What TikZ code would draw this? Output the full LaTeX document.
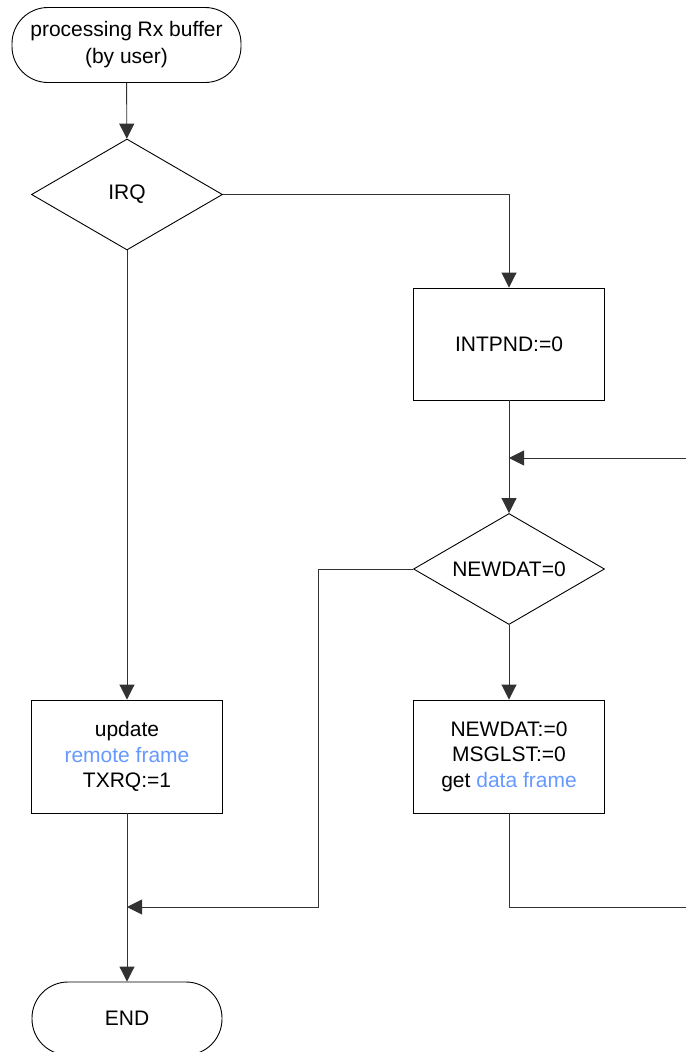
\documentclass[tikz,border=0pt]{standalone}
\usepackage{fontspec}
\setmainfont{Liberation Sans}
\usetikzlibrary{shapes.geometric,arrows.meta}
\definecolor{linkblue}{RGB}{102,153,255}
\definecolor{flowline}{RGB}{50,50,50}
\begin{document}
\begin{tikzpicture}[x=1pt,y=-1pt,
  every node/.style={font=\fontsize{21}{25.5}\selectfont,align=center,inner sep=0pt},
  terminal/.style={draw,line width=0.9pt,rectangle,rounded corners=36pt,minimum width=229pt,minimum height=75pt},
  decision/.style={draw,line width=0.9pt,diamond,aspect=1.72,minimum width=191pt,minimum height=111pt},
  process/.style={draw,line width=0.9pt,rectangle,minimum width=191pt,minimum height=113pt},
  flow/.style={draw=flowline,line width=0.9pt},
  arr/.style={flow,-{Triangle[length=15pt,width=15pt]}}]
\useasboundingbox (0,0) rectangle (686,1052);
\clip (0,0) rectangle (686,1052);

% nodes
\node[terminal,font=\fontsize{21}{27}\selectfont] (start) at (126.5,45) {processing Rx buffer\\(by user)};
\node[decision] (irq) at (127,194.5) {IRQ};
\node[process,minimum height=112pt] (intpnd) at (509,344) {INTPND:=0};
\node[decision] (newdat) at (509,569) {NEWDAT=0};
\node[process] (update) at (127,756.5) {update\\\textcolor{linkblue}{remote frame}\\TXRQ:=1};
\node[process] (getdata) at (509,756.5) {NEWDAT:=0\\MSGLST:=0\\get \textcolor{linkblue}{data frame}};
\node[terminal,minimum width=190pt,minimum height=73pt] (end) at (127,1018.5) {END};

% helper points of the loop and the merge
\coordinate (loopin) at (686,458);
\coordinate (mergeA) at (509,458);
\coordinate (loopout) at (686,907);
\coordinate (skip) at (318,907);
\coordinate (mergeB) at (127,907);

% connectors
\draw[arr] (start) -- (irq);
\draw[arr] (irq.east) -| (intpnd.north);
\draw[arr] (intpnd) -- (newdat);
\draw[arr] (loopin) -- (mergeA);
\draw[arr] (newdat) -- (getdata);
\draw[flow] (getdata.south) |- (loopout);
\draw[arr] (newdat.west) -| (skip) -- (mergeB);
\draw[arr] (irq) -- (update);
\draw[arr] (update) -- (end);
\end{tikzpicture}
\end{document}
